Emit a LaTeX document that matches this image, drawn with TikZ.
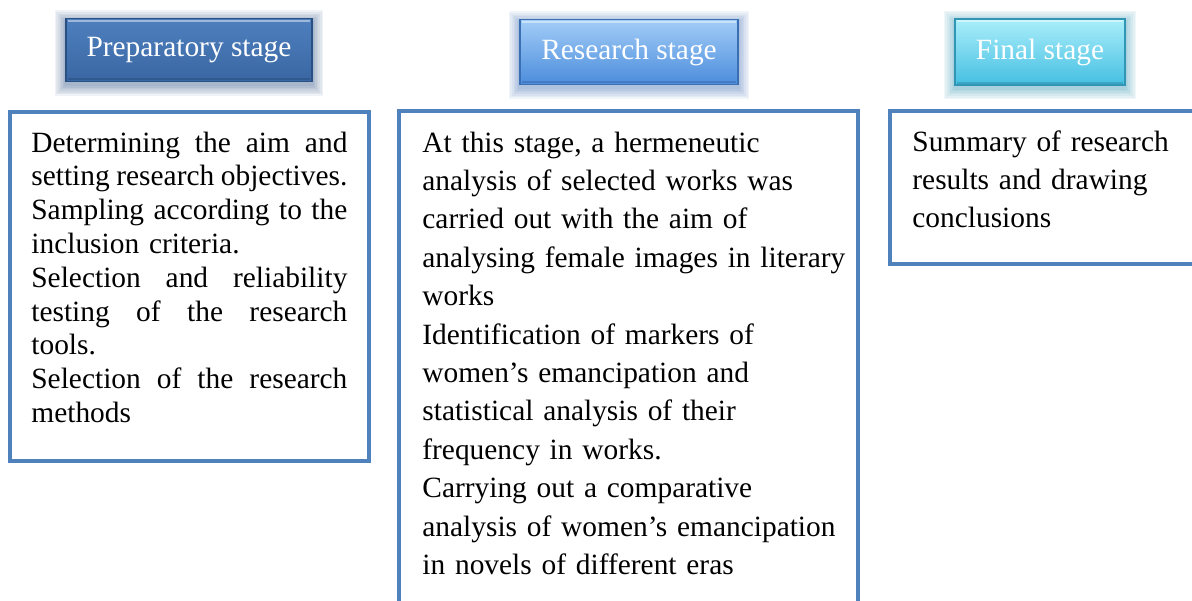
\documentclass[tikz,border=0pt]{standalone}
\usepackage{fontspec}
\setmainfont{Liberation Serif}
\definecolor{frameblue}{HTML}{4F81BD}
\newlength\prepwidth
\setlength\prepwidth{158pt}
\newcommand{\jline}[1]{{\spaceskip=0pt\xspaceskip=0pt\makebox[\prepwidth][s]{#1}}}
\tikzset{
  frame/.style={draw=frameblue, line width=2pt},
  stagebox/.style={text=white, inner sep=0pt, line width=0.8pt,
    font=\fontsize{14.7}{18}\selectfont},
  bodytext/.style={anchor=base west, inner sep=0pt, align=left,
    font=\fontsize{14.7}{19.2}\selectfont}
}
\begin{document}
\begin{tikzpicture}[x=0.5pt, y=-0.5pt]
  \clip (0,0) rectangle (1192,600);
  \fill[white] (0,0) rectangle (1192,600);

  % stage headers
  \foreach \name/\cx/\cy/\w/\h/\ctop/\cbot/\cedge/\txt in {
      prep/189/50/246/63/4E7FBE/3A67A3/2A4F82/Preparatory stage,
      research/629/52/218/65/A2CDF7/4C8CDC/3A6FB4/Research stage,
      final/1040/52/170/66/AAEEFA/45BFE2/3196B4/Final stage} {
    \definecolor{stagetop}{HTML}{\ctop}
    \definecolor{stagebot}{HTML}{\cbot}
    \definecolor{stageedge}{HTML}{\cedge}
    \foreach \g in {1,...,7}
      \fill[stageedge, opacity=0.07] (\cx-\w/2-\g*1.6, \cy-\h/2-\g*1.6+3) rectangle (\cx+\w/2+\g*1.6, \cy+\h/2+\g*1.6+3);
    \node[stagebox, top color=stagetop, bottom color=stagebot, draw=stageedge,
      minimum width=\w*0.5pt, minimum height=\h*0.5pt] (\name) at (\cx,\cy) {\txt};
    \draw[white, opacity=0.45, line width=1pt] ([shift={(3,3)}]\name.north west) -- ([shift={(-3,3)}]\name.north east);
    \draw[stageedge, opacity=0.6, line width=1pt] ([shift={(3,-3)}]\name.south west) -- ([shift={(-3,-3)}]\name.south east);
  }

  % frames
  \draw[frame] (9.5,112) rectangle (369,460.5);
  \draw[frame] (399,110.5) rectangle (858,640);
  \draw[frame] (889.5,110.5) rectangle (1240,264);

  % texts
  \node[bodytext, text width=\prepwidth, font=\fontsize{14.7}{16.9}\selectfont] (prepText) at (31,152) {
    \jline{Determining the aim and}\\
    \jline{setting research objectives.}\\
    \jline{Sampling according to the}\\
    inclusion criteria.\\
    \jline{Selection and reliability}\\
    \jline{testing of the research}\\
    tools.\\
    \jline{Selection of the research}\\
    methods};
  \node[bodytext, text width=215pt] (researchText) at (422,152) {
    At this stage, a hermeneutic\\
    analysis of selected works was\\
    carried out with the aim of\\
    analysing female images in literary\\
    works\\
    Identification of markers of\\
    women’s emancipation and\\
    statistical analysis of their\\
    frequency in works.\\
    Carrying out a comparative\\
    analysis of women’s emancipation\\
    in novels of different eras};
  \node[bodytext, text width=135pt] (finalText) at (912,151) {
    Summary of research\\
    results and drawing\\
    conclusions};
\end{tikzpicture}
\end{document}
